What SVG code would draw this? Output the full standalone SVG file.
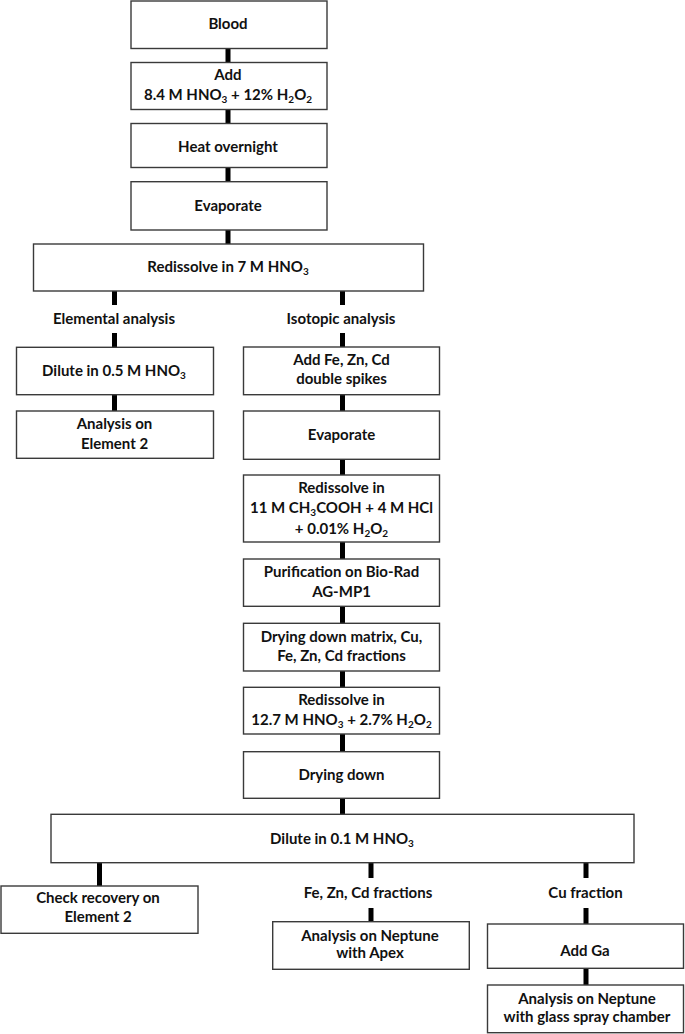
<svg xmlns="http://www.w3.org/2000/svg" width="685" height="1034" viewBox="0 0 685 1034">
<style>
.box{fill:#fff;stroke:#3a3a3a;stroke-width:1.4}
.c{stroke:#000;stroke-width:5;fill:none}
text{font-family:Lato,"Liberation Sans",sans-serif;font-weight:700;font-size:15px;fill:#111;text-anchor:middle}
.s{font-size:10px}
</style>
<rect width="685" height="1034" fill="#fff"/>
<g id="connectors">
<path class="c" d="M228 48.5V62.5M228 109.5V123.5M228 167.5V181.7M228 230V244"/>
<path class="c" d="M114.5 291V305M114.5 333V347.3M114.5 394.7V411"/>
<path class="c" d="M342.5 291V305M342.5 333V347M342.5 394.7V411M342.5 459.3V475M342.5 542V559M342.5 606.3V623.3M342.5 671V687.3M342.5 734V751.7M342.5 798.3V814.3"/>
<path class="c" d="M99.5 862.7V886M371 862.7V878M371 908V921.7M586 862.7V878M586 908V924M586 968.3V985"/>
</g>
<g id="blood"><rect class="box" x="131" y="1" width="196" height="47.5"/><text x="228" y="29">Blood</text></g>
<g id="add"><rect class="box" x="131" y="62.5" width="196" height="47"/><text x="228" y="79.5">Add</text><text x="228" y="100">8.4 M HNO<tspan class="s" dy="3">3</tspan><tspan dy="-3"> + 12% H</tspan><tspan class="s" dy="3">2</tspan><tspan dy="-3">O</tspan><tspan class="s" dy="3">2</tspan></text></g>
<g id="heat"><rect class="box" x="131" y="123.5" width="196" height="44"/><text x="228" y="151.5">Heat overnight</text></g>
<g id="evap1"><rect class="box" x="131" y="181.7" width="196" height="48.3"/><text x="228" y="210.5">Evaporate</text></g>
<g id="redissolve7"><rect class="box" x="33.5" y="244" width="390" height="47"/><text x="228" y="271.5">Redissolve in 7 M HNO<tspan class="s" dy="3">3</tspan></text></g>
<g id="elemental"><text x="114" y="324">Elemental analysis</text></g>
<g id="isotopic"><text x="341" y="324">Isotopic analysis</text></g>
<g id="dilute05"><rect class="box" x="16.5" y="347.3" width="197" height="47.4"/><text x="114" y="375.5">Dilute in 0.5 M HNO<tspan class="s" dy="3">3</tspan></text></g>
<g id="analysisE2"><rect class="box" x="16.5" y="411" width="197" height="47.3"/><text x="114.5" y="429">Analysis on</text><text x="114.5" y="448.5">Element 2</text></g>
<g id="addspikes"><rect class="box" x="243.5" y="347" width="196" height="47.7"/><text x="341.5" y="365">Add Fe, Zn, Cd</text><text x="341.5" y="384">double spikes</text></g>
<g id="evap2"><rect class="box" x="243.5" y="411" width="196" height="48.3"/><text x="341.5" y="440">Evaporate</text></g>
<g id="redissolve11"><rect class="box" x="243.5" y="475" width="196" height="67"/><text x="341.5" y="493.3">Redissolve in</text><text x="341.5" y="513.3">11 M CH<tspan class="s" dy="3">3</tspan><tspan dy="-3">COOH + 4 M HCl</tspan></text><text x="341.5" y="534">+ 0.01% H<tspan class="s" dy="3">2</tspan><tspan dy="-3">O</tspan><tspan class="s" dy="3">2</tspan></text></g>
<g id="purification"><rect class="box" x="243.5" y="559" width="196" height="47.3"/><text x="341.5" y="576.7">Purification on Bio-Rad</text><text x="341.5" y="596.7">AG-MP1</text></g>
<g id="dryingmatrix"><rect class="box" x="243.5" y="623.3" width="196" height="47.7"/><text x="341.5" y="641.7">Drying down matrix, Cu,</text><text x="341.5" y="660.5">Fe, Zn, Cd fractions</text></g>
<g id="redissolve127"><rect class="box" x="243.5" y="687.3" width="196" height="46.7"/><text x="341.5" y="705">Redissolve in</text><text x="341.5" y="725">12.7 M HNO<tspan class="s" dy="3">3</tspan><tspan dy="-3"> + 2.7% H</tspan><tspan class="s" dy="3">2</tspan><tspan dy="-3">O</tspan><tspan class="s" dy="3">2</tspan></text></g>
<g id="dryingdown"><rect class="box" x="243.5" y="751.7" width="196" height="46.6"/><text x="341.5" y="780">Drying down</text></g>
<g id="dilute01"><rect class="box" x="51" y="814.3" width="583" height="48.4"/><text x="342" y="843.5">Dilute in 0.1 M HNO<tspan class="s" dy="3">3</tspan></text></g>
<g id="checkrecovery"><rect class="box" x="1" y="886" width="197" height="47.3"/><text x="98" y="903.3">Check recovery on</text><text x="98" y="922">Element 2</text></g>
<g id="fezncd"><text x="368" y="898">Fe, Zn, Cd fractions</text></g>
<g id="apex"><rect class="box" x="272.7" y="921.7" width="196.6" height="47.6"/><text x="370" y="940.5">Analysis on Neptune</text><text x="370" y="958">with Apex</text></g>
<g id="cufraction"><text x="585.5" y="898">Cu fraction</text></g>
<g id="addga"><rect class="box" x="487.5" y="924" width="196" height="44.3"/><text x="585" y="956">Add Ga</text></g>
<g id="glass"><rect class="box" x="487.5" y="985" width="196" height="47.7"/><text x="587" y="1003.5">Analysis on Neptune</text><text x="587" y="1021.5">with glass spray chamber</text></g>
</svg>
